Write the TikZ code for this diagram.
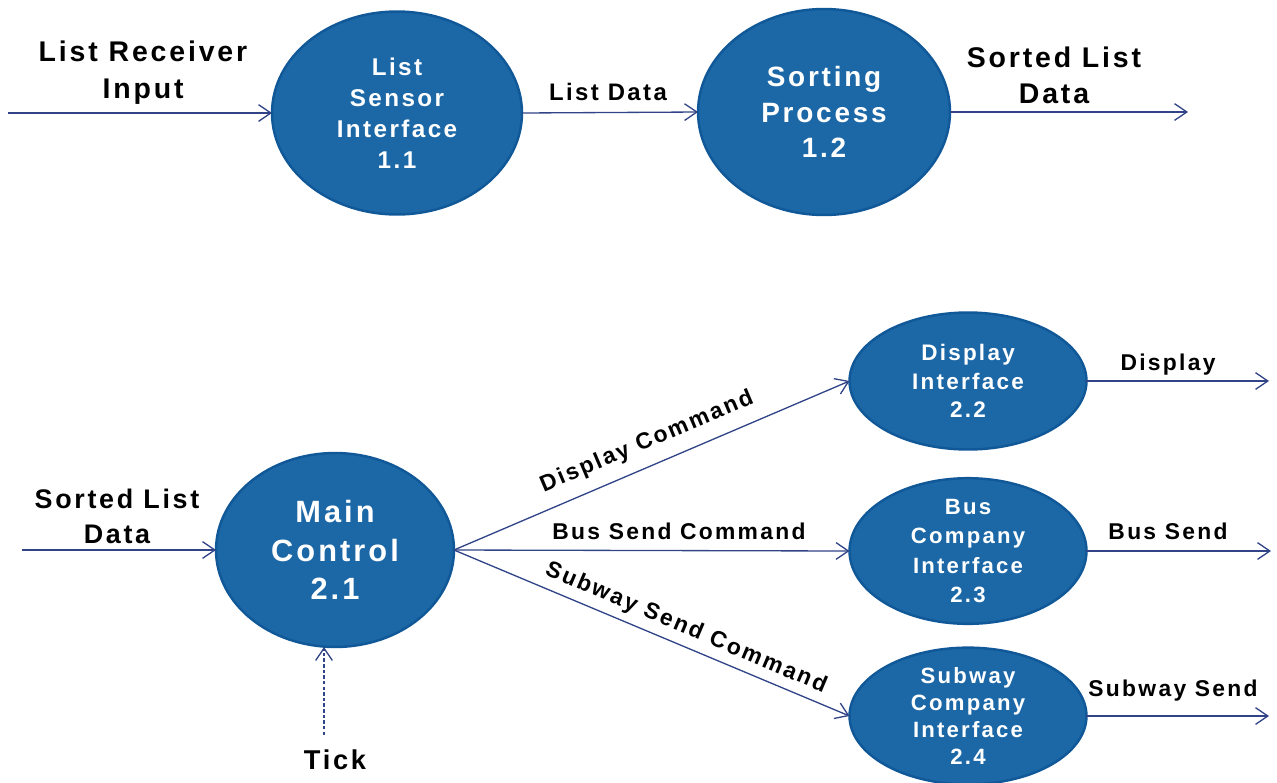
\documentclass[tikz,border=0pt]{standalone}
\usepackage{fontspec}
\setmainfont{Liberation Sans}[LetterSpace=10]
\usetikzlibrary{shapes.geometric,arrows.meta}
\definecolor{procfill}{RGB}{28,104,167}
\definecolor{procborder}{RGB}{16,88,152}
\definecolor{flowcol}{RGB}{48,68,135}
\tikzset{
  proc/.style={ellipse, draw=procborder, line width=1.4pt, fill=procfill, text=white, align=center, inner sep=0pt, outer sep=0pt},
  flow/.style={draw=flowcol, line width=0.75pt, -{Straight Barb[length=7pt,width=9.5pt,line width=0.75pt]}},
  tickflow/.style={flow, dash pattern=on 2pt off 1.2pt},
  lbl/.style={text=black, align=center, inner sep=0pt},
}
\newcommand{\fs}[2]{\fontsize{#1}{#2}\selectfont\bfseries}
\begin{document}
\begin{tikzpicture}[x=0.02cm,y=-0.02cm]
\useasboundingbox (0,0) rectangle (1277,782);
% processes
\node[proc, minimum width=5.0cm, minimum height=4.06cm, font=\fs{13.8pt}{17.6pt}] (p11) at (397,113) {List\\Sensor\\Interface\\1.1};
\node[proc, minimum width=5.04cm, minimum height=4.12cm, font=\fs{15.9pt}{20.4pt}] (p12) at (824,112) {Sorting\\Process\\1.2};
\node[proc, minimum width=4.76cm, minimum height=3.88cm, font=\fs{17.5pt}{22.1pt}] (p21) at (335,550) {Main\\Control\\2.1};
\node[proc, minimum width=4.74cm, minimum height=2.74cm, font=\fs{12.8pt}{16.4pt}] (p22) at (968,381) {Display\\Interface\\2.2};
\node[proc, minimum width=4.74cm, minimum height=2.64cm, font=\fs{12.6pt}{16.6pt}] (p23) at (968,551) {Bus\\Company\\Interface\\2.3};
\node[proc, minimum width=4.74cm, minimum height=2.72cm, font=\fs{12.6pt}{15.3pt}] (p24) at (968,716) {Subway\\Company\\Interface\\2.4};
% free ends
\coordinate (inA) at (8,113);
\coordinate (outA) at (1188,112);
\coordinate (inB) at (22,550);
\coordinate (outD) at (1269,381);
\coordinate (outBus) at (1271,551);
\coordinate (outSub) at (1269,716);
\coordinate (tickS) at (324,735);
% flows
\draw[flow] (inA) -- (p11.west);
\draw[flow] (p11.east) -- (p12.west);
\draw[flow] (p12.east) -- (outA);
\draw[flow] (inB) -- (p21.west);
\draw[flow] (p21.east) -- (p22.west);
\draw[flow] (p21.east) -- (p23.west);
\draw[flow] (p21.east) -- (p24.west);
\draw[flow] (p22.east) -- (outD);
\draw[flow] (p23.east) -- (outBus);
\draw[flow] (p24.east) -- (outSub);
\draw[tickflow] (tickS) -- (tickS |- p21.south);
% labels
\node[lbl, font=\fs{16.2pt}{21pt}] (lRecv) at (143,73) {List Receiver\\Input};
\node[lbl, font=\fs{13.6pt}{16pt}] (lData) at (608,92) {List Data};
\node[lbl, font=\fs{16.2pt}{20.5pt}] (lSorted) at (1054,75) {Sorted List\\Data};
\node[lbl, font=\fs{15.3pt}{20pt}] (lSorted2) at (117,516) {Sorted List\\Data};
\node[lbl, font=\fs{13pt}{16pt}, rotate=23] (lDispCmd) at (647,442) {Display Command};
\node[lbl, font=\fs{13pt}{16pt}] (lBusCmd) at (679,531) {Bus Send Command};
\node[lbl, font=\fs{13pt}{16pt}, rotate=-23] (lSubCmd) at (686,628) {Subway Send Command};
\node[lbl, font=\fs{13pt}{16pt}] (lDisp) at (1168,365) {Display};
\node[lbl, font=\fs{13pt}{16pt}] (lBus) at (1168,531) {Bus Send};
\node[lbl, font=\fs{13pt}{16pt}] (lSub) at (1173,691) {Subway Send};
\node[lbl, font=\fs{15.5pt}{18pt}] (lTick) at (335,760) {Tick};
\end{tikzpicture}
\end{document}
